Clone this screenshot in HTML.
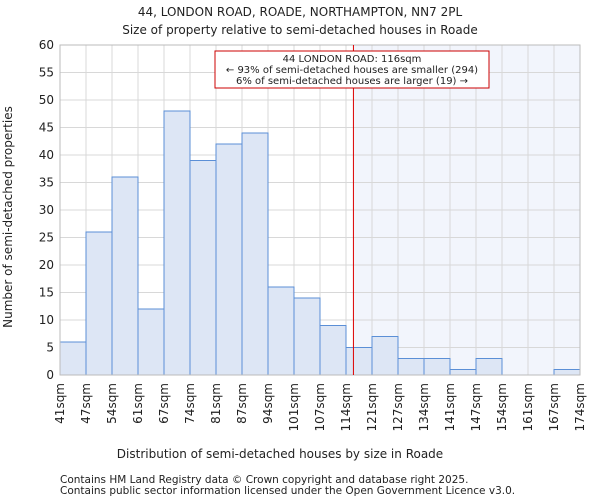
<!DOCTYPE html>
<html><head><meta charset="utf-8"><style>
body{margin:0;background:#fff;font-family:"DejaVu Sans","Liberation Sans",sans-serif;}
svg text{font-family:"DejaVu Sans","Liberation Sans",sans-serif;fill:#222;}
</style></head><body>
<svg id="chart" width="600" height="500" xmlns="http://www.w3.org/2000/svg">
<text x="300" y="16" text-anchor="middle" font-size="12">44, LONDON ROAD, ROADE, NORTHAMPTON, NN7 2PL</text>
<text x="300" y="34" text-anchor="middle" font-size="12">Size of property relative to semi-detached houses in Roade</text>
<g id="plot"></g>
<text x="280" y="458" text-anchor="middle" font-size="12">Distribution of semi-detached houses by size in Roade</text>
<text transform="translate(12,217) rotate(-90)" text-anchor="middle" font-size="12">Number of semi-detached properties</text>
<text x="60" y="483" font-size="10.5" fill="#444">Contains HM Land Registry data © Crown copyright and database right 2025.</text>
<text x="60" y="494" font-size="10.5" fill="#444">Contains public sector information licensed under the Open Government Licence v3.0.</text>
</svg>
<script>
const edgeLabels=["41sqm","47sqm","54sqm","61sqm","67sqm","74sqm","81sqm","87sqm","94sqm","101sqm","107sqm","114sqm","121sqm","127sqm","134sqm","141sqm","147sqm","154sqm","161sqm","167sqm","174sqm"];
const counts=[6,26,36,12,48,39,42,44,16,14,9,5,7,3,3,1,3,0,0,1];
const yTicks=[0,5,10,15,20,25,30,35,40,45,50,55,60];
const markerBin=11+2/7;
const annotation=["44 LONDON ROAD: 116sqm","← 93% of semi-detached houses are smaller (294)","6% of semi-detached houses are larger (19) →"];
const L=60,R=580,T=45,B=375,yMax=60;
const n=counts.length,bw=(R-L)/n;
const xs=i=>L+i*bw, ys=v=>B-(v/yMax)*(B-T);
const NS="http://www.w3.org/2000/svg",g=document.getElementById('plot');
function mk(t,a,p){const e=document.createElementNS(NS,t);for(const k in a)e.setAttribute(k,a[k]);(p||g).appendChild(e);return e;}
let e=mk('rect',{x:xs(markerBin),y:T,width:R-xs(markerBin),height:B-T,fill:'#f2f5fc'});


yTicks.forEach(v=>{let l=mk('line',{x1:L,x2:R,y1:ys(v),y2:ys(v),stroke:'#d8d8d8'});


let t=mk('text',{x:L-6,y:ys(v)+4,'text-anchor':'end','font-size':12});t.textContent=v;

});
edgeLabels.forEach((s,i)=>{let l=mk('line',{x1:xs(i),x2:xs(i),y1:T,y2:B,stroke:'#d8d8d8'});


let t=mk('text',{transform:`translate(${xs(i)+4},${B+8}) rotate(-90)`,'text-anchor':'end','font-size':12});t.textContent=s;

});
counts.forEach((v,i)=>{if(v<=0)return;let r=mk('rect',{x:xs(i),y:ys(v),width:bw,height:B-ys(v),fill:'#dde6f5',stroke:'#5b8fd6','stroke-width':1});

});
e=mk('rect',{x:L,y:T,width:R-L,height:B-T,fill:'none',stroke:'#bbb'});


e=mk('line',{x1:xs(markerBin),x2:xs(markerBin),y1:T,y2:B,stroke:'#dd0000','stroke-width':1});


e=mk('rect',{x:215,y:51,width:274,height:37,fill:'#fff',stroke:'#cc0000'});


annotation.forEach((s,i)=>{let t=mk('text',{x:352,y:62+i*11,'text-anchor':'middle','font-size':10});t.textContent=s;

});
</script>
</body></html>
